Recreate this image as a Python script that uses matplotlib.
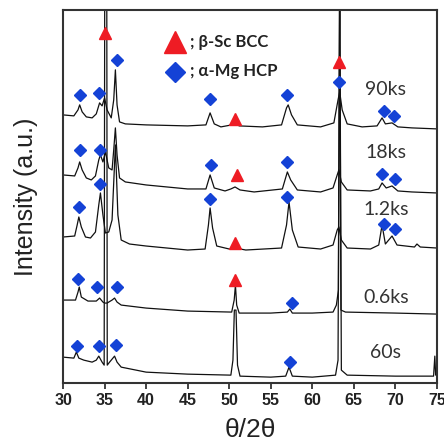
"""
XRD patterns of Mg-Sc alloy after different aging times
"""

import numpy as np
import matplotlib.pyplot as plt

# 2theta positions / intensities (a.u., traces already offset)
x_90ks = [30, 31.3, 31.8, 32.0, 32.3, 32.8, 33.5, 34.0, 34.4, 34.7, 35.0, 35.3, 35.8, 36.1, 36.3, 36.5,
          36.8, 37.5, 40, 45, 47.2, 47.7, 48.2, 49, 50.3, 50.7, 51.2, 54, 56.3, 56.9, 57.1, 57.5,
          58.2, 61, 62.6, 63.1, 63.3, 63.6, 64.2, 66, 67.8, 68.4, 68.8, 69.6, 70.3, 72, 75]
y_90ks = [268, 267, 273, 278, 271, 266, 265, 269, 280, 277, 285, 273, 265, 283, 313, 278,
          261, 259, 258, 257, 258, 270, 259, 256, 258, 260, 257, 256, 258, 275, 278, 268,
          258, 256, 260, 283, 291, 273, 259, 256, 257, 265, 259, 260, 256, 255, 254]

x_18ks = [30, 31.4, 31.8, 32.0, 32.3, 32.8, 33.4, 33.9, 34.3, 34.5, 34.8, 35.1, 35.5, 35.9, 36.1, 36.3,
          36.5, 36.8, 37.5, 40, 45, 47.2, 47.7, 48.2, 49.5, 50.2, 50.7, 51.3, 53, 56.4, 57.0, 57.4,
          58.2, 61, 62.5, 63.0, 63.2, 63.5, 64.2, 67, 68.0, 68.4, 68.9, 69.6, 70.3, 72, 75]
y_18ks = [208, 207, 215, 221, 213, 205, 203, 207, 223, 228, 221, 231, 215, 213, 233, 255,
          228, 205, 201, 198, 194, 194, 208, 195, 192, 194, 196, 193, 191, 194, 211, 203,
          193, 191, 195, 208, 213, 201, 193, 192, 194, 200, 195, 197, 192, 191, 190]

x_1200s = [30, 31.4, 31.7, 31.9, 32.2, 32.7, 33.3, 33.9, 34.3, 34.5, 34.8, 35.1, 35.5, 35.9, 36.3, 36.6,
           37.0, 38, 40, 45, 47.1, 47.5, 47.7, 48.0, 48.5, 50, 50.7, 52, 56.3, 56.9, 57.2, 57.6,
           58.3, 61, 62.5, 63.0, 63.2, 63.5, 64.2, 67, 68.0, 68.4, 68.8, 69.2, 69.6, 70.2, 72.3,
           72.6, 73.0, 75]
y_1200s = [146, 147, 158, 166, 156, 146, 145, 151, 178, 190, 168, 150, 151, 163, 238, 168,
           143, 139, 137, 133, 134, 158, 175, 155, 137, 134, 135, 133, 135, 158, 181, 153,
           136, 134, 138, 153, 156, 143, 135, 134, 138, 158, 139, 143, 147, 138, 136,
           139, 136, 135]

x_600s = [30, 31.5, 31.8, 31.95, 32.2, 33, 34, 34.4, 34.8, 35.0, 35.3, 35.9, 36.2, 36.5, 37, 40,
          45, 50.3, 50.6, 50.75, 50.9, 51.2, 55, 57.0, 57.3, 57.6, 60, 62.5, 62.9, 63.15, 63.3,
          63.45, 64, 70, 75]
y_600s = [83, 83, 91, 96, 86, 82, 82, 85, 81, 80, 80, 83, 85, 81, 78, 75,
          72, 71, 83, 98, 78, 70, 70, 71, 74, 70, 70, 71, 78, 93, 420,
          73, 71, 70, 69]

x_60s = [30, 31.3, 31.6, 31.9, 32.5, 33.5, 34.0, 34.3, 34.7, 34.95, 35.02, 35.26, 35.32, 35.6, 36.0, 36.2,
         36.5, 37, 40, 45, 50.2, 50.45, 50.62, 50.82, 51.0, 51.3, 55, 56.8, 57.2, 57.6, 60, 62.8,
         63.1, 63.3, 63.5, 64.2, 70, 74.6, 74.75, 74.85, 75]
y_60s = [26, 25, 31, 25, 23, 21, 23, 27, 21, 18, 420, 420, 18, 21, 25, 27,
         21, 16, 11, 9, 8, 23, 73, 73, 18, 7, 6, 7, 16, 7, 6, 8,
         23, 420, 13, 8, 7, 7, 27, 8, 11]

# phase markers
bcc_x = [35.1, 50.75, 63.2, 50.9, 50.75, 50.75]
bcc_y = [350, 264, 321, 208, 140, 103]
hcp_x = [32.05, 34.3, 36.5, 47.7, 57.0, 63.2, 68.6, 69.8,
         32.05, 34.5, 47.8, 57.0, 68.4, 70.0,
         31.9, 34.5, 47.7, 57.0, 68.6, 69.9,
         31.8, 34.1, 36.5, 57.5,
         31.7, 34.35, 36.4, 57.3]
hcp_y = [288, 290, 323, 284, 288, 301, 272, 267,
         233, 233, 218, 221, 209, 204,
         176, 199, 184, 186, 159, 154,
         104, 96, 96, 80,
         37, 37, 38, 21]

labels = ['90ks', '18ks', '1.2ks', '0.6ks', '60s']
label_y = [293, 230, 173, 86, 31]

red = '#ee1c24'
blue = '#1442d6'

fig = plt.figure(figsize=(4.44, 4.45), dpi=100)
ax = fig.add_axes([0.142, 0.139, 0.842, 0.839])

for xs, ys in [(x_90ks, y_90ks), (x_18ks, y_18ks), (x_1200s, y_1200s), (x_600s, y_600s), (x_60s, y_60s)]:
    ax.plot(xs, ys, color='#111111', lw=0.9)

ax.plot(hcp_x, hcp_y, ls='none', marker='D', ms=6, color=blue, zorder=3)
ax.plot(bcc_x, bcc_y, ls='none', marker='^', ms=9, color=red, zorder=3)

for lab, ly in zip(labels, label_y):
    ax.text(68.85, ly, lab, fontsize=14, family='Lato', ha='center', va='center', color='#333333')

# legend drawn by hand so the markers are bigger than in the plot
ax.plot([43.5], [341], ls='none', marker='^', ms=16, color=red, clip_on=False)
ax.plot([43.5], [311], ls='none', marker='D', ms=10, color=blue, clip_on=False)
ax.text(45.3, 341, '; β-Sc BCC', fontsize=12, fontweight='bold', family='Lato', va='center', color='#222222')
ax.text(45.3, 312, '; α-Mg HCP', fontsize=12, fontweight='bold', family='Lato', va='center', color='#222222')

ax.set_xlim(30, 75)
ax.set_ylim(0, 373)
ax.set_xticks(np.arange(30, 76, 5))
ax.set_yticks([])
for lab in ax.get_xticklabels():
    lab.set_fontweight('bold')
    lab.set_family('Liberation Sans')
ax.tick_params(axis='x', direction='out', length=4, width=1.2, labelsize=11.5, pad=3, colors='#222222')
for s in ax.spines.values():
    s.set_linewidth(1.5)
    s.set_color('#333333')

ax.set_xlabel('θ/2θ', fontsize=19, family='Liberation Sans', labelpad=7, color='#222222')
ax.set_ylabel('Intensity (a.u.)', fontsize=18, family='Liberation Sans', labelpad=18, color='#222222')

fig.savefig('out.png', dpi=100)
